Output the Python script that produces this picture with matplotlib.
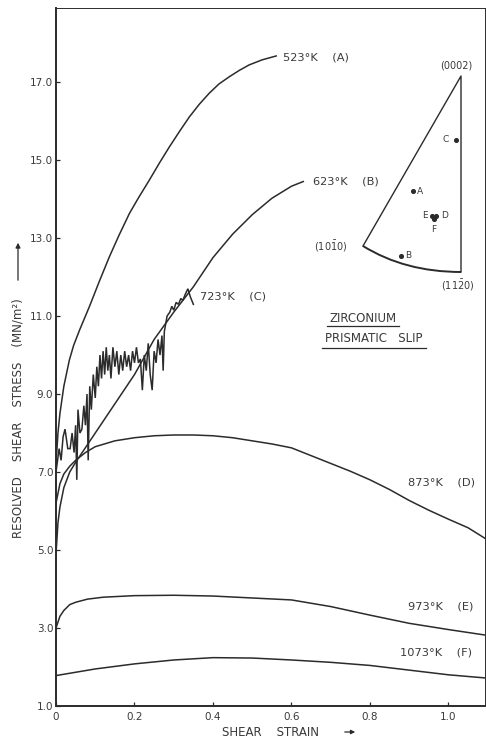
import matplotlib
matplotlib.use("Agg")
import matplotlib.pyplot as plt
from matplotlib.path import Path
from matplotlib.patches import PathPatch

plt.rcParams['font.family'] = ['DejaVu Sans']
plt.rcParams['mathtext.default'] = 'regular'

INK = '#2b2b2b'
TXT = '#3a3a3a'

# stress-strain curves (strain, resolved shear stress MN/m^2)
strain_A = [0, 0.005, 0.01, 0.02, 0.034, 0.045, 0.06, 0.085, 0.11, 0.136, 0.16, 0.187,
            0.21, 0.238, 0.265, 0.289, 0.315, 0.34, 0.365, 0.39, 0.415, 0.442, 0.467,
            0.492, 0.525, 0.561]
stress_A = [7.2, 8.0, 8.5, 9.2, 9.87, 10.25, 10.64, 11.24, 11.88, 12.52, 13.06, 13.63,
            14.03, 14.49, 14.95, 15.34, 15.74, 16.11, 16.43, 16.71, 16.95, 17.14, 17.3,
            17.44, 17.57, 17.67]

strain_B = [0, 0.005, 0.01, 0.02, 0.035, 0.05, 0.08, 0.12, 0.16, 0.20, 0.25, 0.30, 0.35,
            0.40, 0.45, 0.50, 0.55, 0.60, 0.63]
stress_B = [4.9, 5.7, 6.1, 6.6, 7.0, 7.25, 7.7, 8.3, 8.9, 9.5, 10.4, 11.1, 11.75,
            12.5, 13.1, 13.6, 14.02, 14.33, 14.45]

strain_C = [0.000, 0.008, 0.013, 0.018, 0.023, 0.030, 0.036, 0.041, 0.046, 0.050, 0.053,
            0.056, 0.061, 0.066, 0.071, 0.075, 0.079, 0.082, 0.086, 0.090, 0.095, 0.100,
            0.104, 0.108, 0.112, 0.116, 0.120, 0.124, 0.128, 0.132, 0.136, 0.140, 0.145,
            0.150, 0.155, 0.160, 0.165, 0.170, 0.175, 0.180, 0.185, 0.190, 0.195, 0.200,
            0.205, 0.210, 0.215, 0.220, 0.225, 0.230, 0.235, 0.240, 0.245, 0.250, 0.255,
            0.260, 0.265, 0.270, 0.273, 0.276, 0.283, 0.290, 0.295, 0.300, 0.306, 0.312,
            0.318, 0.323, 0.329, 0.336, 0.342, 0.350]
stress_C = [7.0, 7.6, 7.3, 7.9, 8.1, 7.6, 7.6, 8.0, 7.5, 8.2, 6.8,
            8.6, 8.0, 8.1, 8.7, 8.2, 9.0, 7.3, 9.2, 8.6, 9.5, 8.9,
            9.7, 9.2, 10.0, 9.4, 10.1, 9.5, 10.2, 9.6, 10.0, 9.4, 10.2,
            9.7, 10.1, 9.5, 10.0, 9.6, 10.1, 9.7, 10.0, 9.6, 10.1, 9.8,
            10.2, 9.8, 9.9, 9.1, 10.0, 9.6, 10.3, 9.5, 9.1, 10.1, 9.8,
            10.4, 10.0, 10.5, 9.6, 10.6, 11.0, 11.1, 11.25, 11.15, 11.35, 11.3,
            11.45, 11.4, 11.55, 11.7, 11.5, 11.3]

strain_D = [0, 0.01, 0.02, 0.035, 0.05, 0.075, 0.10, 0.15, 0.20, 0.25, 0.30, 0.35, 0.40,
            0.45, 0.50, 0.55, 0.60, 0.65, 0.70, 0.75, 0.80, 0.85, 0.90, 0.95, 1.00, 1.05, 1.093]
stress_D = [6.2, 6.7, 6.95, 7.15, 7.3, 7.5, 7.65, 7.8, 7.88, 7.93, 7.95, 7.95, 7.93,
            7.88, 7.8, 7.72, 7.62, 7.42, 7.22, 7.02, 6.8, 6.55, 6.27, 6.02, 5.79, 5.57, 5.3]

strain_E = [0, 0.01, 0.02, 0.035, 0.05, 0.08, 0.12, 0.20, 0.30, 0.40, 0.50, 0.60, 0.70,
            0.80, 0.90, 1.00, 1.093]
stress_E = [3.0, 3.3, 3.45, 3.6, 3.66, 3.74, 3.79, 3.83, 3.84, 3.82, 3.77, 3.72, 3.55,
            3.33, 3.12, 2.96, 2.82]

strain_F = [0, 0.1, 0.2, 0.3, 0.4, 0.5, 0.6, 0.7, 0.8, 0.9, 1.0, 1.093]
stress_F = [1.78, 1.95, 2.08, 2.18, 2.24, 2.23, 2.18, 2.12, 2.04, 1.92, 1.8, 1.72]

curve_labels = ['523°K    (A)', '623°K    (B)', '723°K    (C)',
                '873°K    (D)', '973°K    (E)', '1073°K    (F)']

x_ticks = [0, 0.2, 0.4, 0.6, 0.8, 1.0]
x_ticklabels = ['0', '0.2', '0.4', '0.6', '0.8', '1.0']
y_ticks = [1, 3, 5, 7, 9, 11, 13, 15, 17]
y_ticklabels = ['1.0', '3.0', '5.0', '7.0', '9.0', '11.0', '13.0', '15.0', '17.0']

# orientations in the stereographic triangle (inset pixel frame)
orient_names = ['A', 'B', 'C', 'D', 'E', 'F']
orient_x = [413, 401, 456, 436, 432, 434]
orient_y = [191, 256, 140, 216, 216, 219]

fig = plt.figure(figsize=(4.86, 7.38), dpi=100)
ax = fig.add_axes([56 / 486, 32 / 738, 429 / 486, 698 / 738])

for sx, sy in [(strain_A, stress_A), (strain_B, stress_B), (strain_C, stress_C),
               (strain_D, stress_D), (strain_E, stress_E), (strain_F, stress_F)]:
    ax.plot(sx, sy, color=INK, lw=1.1, solid_joinstyle='miter')

ax.set_xlim(0, 1.093)
ax.set_ylim(1.0, 18.9)
ax.set_xticks(x_ticks)
ax.set_xticklabels(x_ticklabels)
ax.set_yticks(y_ticks)
ax.set_yticklabels(y_ticklabels)
ax.tick_params(direction='in', length=3, width=0.9, colors=INK, labelcolor=TXT,
               labelsize=7.5)
ax.tick_params(axis='y', pad=2)
ax.tick_params(axis='x', pad=4)
ax.spines['left'].set_linewidth(1.4)
ax.spines['bottom'].set_linewidth(1.4)
ax.spines['top'].set_linewidth(0.7)
ax.spines['right'].set_linewidth(0.7)
for s in ax.spines.values():
    s.set_color(INK)

label_pos = [(0.578, 17.64), (0.655, 14.44), (0.367, 11.49),
             (0.897, 6.72), (0.897, 3.54), (0.876, 2.36)]
for txt, (lx, ly) in zip(curve_labels, label_pos):
    ax.text(lx, ly, txt, fontsize=8.2, color=TXT, ha='left', va='center')

# overlay in pixel units for axis-title arrows, the inset triangle and title
ov = fig.add_axes([0, 0, 1, 1])
ov.set_xlim(0, 486)
ov.set_ylim(738, 0)
ov.axis('off')

ov.text(18, 418, 'RESOLVED    SHEAR    STRESS    (MN/m²)', rotation=90, fontsize=8.5,
        color=TXT, ha='center', va='center')
ov.annotate('', xy=(18, 240), xytext=(18, 283),
            arrowprops=dict(arrowstyle='-|>', lw=0.9, color=INK, mutation_scale=7))
ov.text(270, 732, 'SHEAR    STRAIN', fontsize=8.5, color=TXT, ha='center', va='center')
ov.annotate('', xy=(358, 732), xytext=(342, 732),
            arrowprops=dict(arrowstyle='-|>', lw=0.9, color=INK, mutation_scale=6))

ov.plot([363, 461, 461], [246, 76, 272], color=INK, lw=1.0)
arc = Path([(363, 246), (405, 272), (461, 272)], [Path.MOVETO, Path.CURVE3, Path.CURVE3])
ov.add_patch(PathPatch(arc, fc='none', ec=INK, lw=1.4))

ov.scatter(orient_x, orient_y, s=7, color=INK, zorder=3)
ov.text(456, 66, '(0002)', fontsize=7, color=TXT, ha='center', va='center')
ov.text(331, 246, r'(10$\bar{1}$0)', fontsize=7, color=TXT, ha='center', va='center')
ov.text(458, 285, r'(11$\bar{2}$0)', fontsize=7, color=TXT, ha='center', va='center')

ov.text(449, 140, 'C', fontsize=6.5, color=TXT, ha='right', va='center')
ov.text(417, 191, 'A', fontsize=6.5, color=TXT, ha='left', va='center')
ov.text(405, 256, 'B', fontsize=6.5, color=TXT, ha='left', va='center')
ov.text(428, 215, 'E', fontsize=6.5, color=TXT, ha='right', va='center')
ov.text(441, 215, 'D', fontsize=6.5, color=TXT, ha='left', va='center')
ov.text(434, 225, 'F', fontsize=6.5, color=TXT, ha='center', va='top')

ov.text(363, 318, 'ZIRCONIUM', fontsize=8.5, color=TXT, ha='center', va='center')
ov.plot([327, 399], [326, 326], color=INK, lw=0.9)
ov.text(374, 338, 'PRISMATIC   SLIP', fontsize=8.5, color=TXT, ha='center', va='center')
ov.plot([322, 426], [348, 348], color=INK, lw=0.9)

fig.savefig('out.png', dpi=100)
